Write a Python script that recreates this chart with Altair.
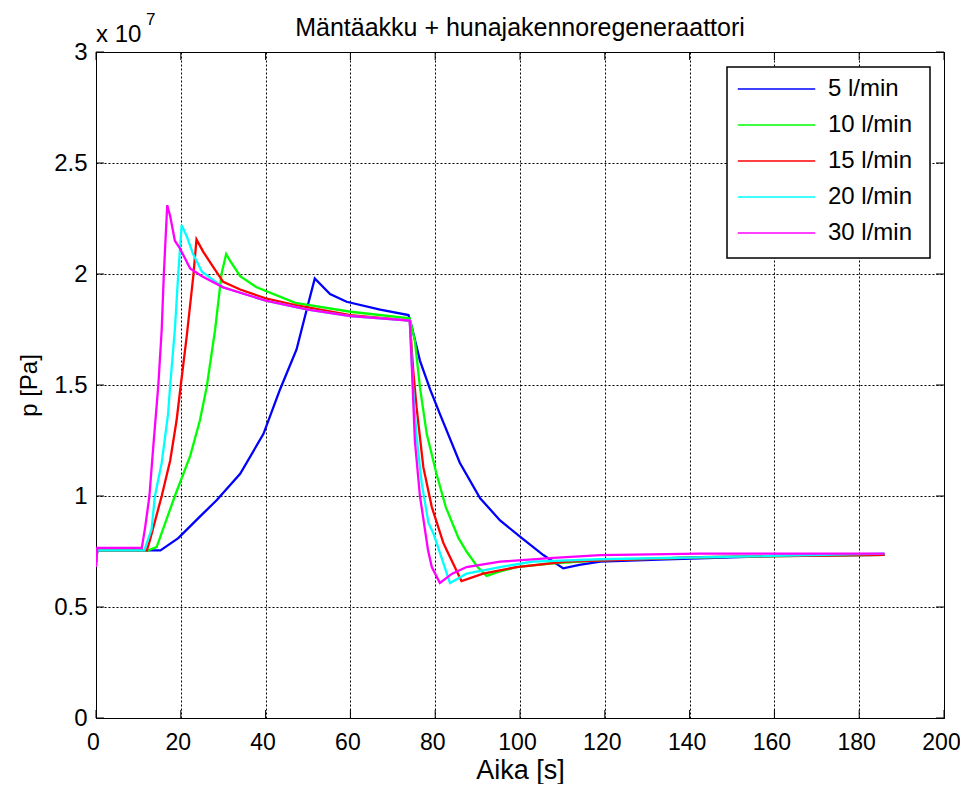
import altair as alt
import pandas as pd

# Pressure in units of 1e7 Pa, time in s
series = ["5 l/min", "10 l/min", "15 l/min", "20 l/min", "30 l/min"]
colors = ["#0000FF", "#00FF00", "#FF0000", "#00FFFF", "#FF00FF"]

t_5 = [0, 0.3, 15.2, 19.4, 24.5, 28.5, 34, 39.5, 43.4, 47.3, 49.7, 51.6, 55.2, 59.1, 67, 73.7,
       74.5, 76.4, 78.8, 81.1, 85.8, 90.6, 95.3, 100, 105.5, 110.2, 114, 118.9, 134.6, 160, 186]
p_5 = [0.70, 0.755, 0.755, 0.81, 0.907, 0.982, 1.10, 1.28, 1.48, 1.66, 1.84, 1.98, 1.91, 1.875, 1.84, 1.815,
       1.76, 1.61, 1.48, 1.37, 1.15, 0.99, 0.89, 0.817, 0.734, 0.674, 0.69, 0.704, 0.715, 0.73, 0.735]

t_10 = [0, 0.3, 12.3, 14.3, 18.6, 22.2, 24.5, 26.1, 28.1, 29.6, 30.7, 31.6, 34, 37.9, 47, 60, 74,
        75.2, 76.4, 78, 80.3, 82.5, 85.5, 87.4, 90, 92.1, 95.3, 99.2, 107, 118.9, 142.5, 186]
p_10 = [0.70, 0.755, 0.755, 0.77, 1.0, 1.18, 1.34, 1.49, 1.75, 2.0, 2.09, 2.06, 1.99, 1.94, 1.87, 1.83, 1.80,
        1.70, 1.49, 1.28, 1.10, 0.95, 0.81, 0.75, 0.68, 0.64, 0.66, 0.68, 0.696, 0.71, 0.724, 0.735]

t_15 = [0, 0.3, 12.0, 12.7, 15.5, 17.5, 19, 20, 21.4, 23, 23.7, 25.3, 27.7, 30, 34, 40, 47, 60, 74,
        74.8, 75.6, 77.2, 79.2, 81.9, 82.7, 86.2, 91.3, 99.2, 111, 142.5, 186]
p_15 = [0.70, 0.755, 0.755, 0.80, 1.0, 1.16, 1.34, 1.5, 1.72, 2.0, 2.156, 2.10, 2.03, 1.965, 1.93, 1.89, 1.86, 1.815, 1.79,
        1.57, 1.40, 1.13, 0.95, 0.79, 0.757, 0.617, 0.65, 0.68, 0.704, 0.724, 0.735]

t_20 = [0, 0.3, 11.4, 13.1, 13.9, 15.5, 17, 17.5, 18.6, 19.4, 20.2, 21.4, 22.9, 25, 30, 40, 50, 60, 74,
        74.8, 75.6, 76.8, 78.4, 79.6, 83.5, 87.4, 95.3, 103, 118.9, 186]
p_20 = [0.70, 0.755, 0.755, 0.85, 1.0, 1.15, 1.37, 1.5, 1.75, 2.0, 2.22, 2.17, 2.09, 2.01, 1.94, 1.88, 1.84, 1.81, 1.79,
        1.48, 1.27, 1.06, 0.88, 0.83, 0.608, 0.65, 0.68, 0.704, 0.715, 0.74]

t_30 = [0, 0.3, 10.8, 11.6, 12.6, 13.5, 14.7, 15.5, 16, 16.8, 17.5, 18.6, 19.8, 22.2, 25, 30, 40, 50, 60, 74,
        74.5, 75.2, 76.4, 78.3, 79.2, 81.1, 84, 87.4, 95.3, 107, 118.9, 142.5, 186]
p_30 = [0.68, 0.766, 0.766, 0.86, 1.0, 1.22, 1.5, 1.75, 2.0, 2.31, 2.26, 2.15, 2.115, 2.025, 1.99, 1.94, 1.88, 1.84, 1.81, 1.79,
        1.58, 1.25, 1.0, 0.757, 0.68, 0.608, 0.65, 0.68, 0.704, 0.72, 0.734, 0.74, 0.74]

x_ticks = [0, 20, 40, 60, 80, 100, 120, 140, 160, 180, 200]
y_ticks = [0, 0.5, 1, 1.5, 2, 2.5, 3]

title_text = "Mäntäakku + hunajakennoregeneraattori"
x_title = "Aika [s]"
y_title = "p [Pa]"

FONT = "Liberation Sans"
W, H = 848, 666

rows = []
for name, ts, ps in zip(series, [t_5, t_10, t_15, t_20, t_30], [p_5, p_10, p_15, p_20, p_30]):
    for i, (t, p) in enumerate(zip(ts, ps)):
        rows.append({"series": name, "t": t, "p": p, "i": i})
df = pd.DataFrame(rows)

xscale = alt.Scale(domain=[0, 200], nice=False, zero=False)
yscale = alt.Scale(domain=[0, 3], nice=False, zero=False)

xaxis = alt.Axis(values=x_ticks, title=x_title, grid=True, ticks=False, labelPadding=13,
                 labelFlush=False, labelFontSize=23, labelOffset=-3,
                 titlePadding=3, titleFontSize=27, labelExpr="'' + datum.value")
yaxis = alt.Axis(values=y_ticks, title=y_title, grid=True, ticks=False, labelPadding=9,
                 labelFlush=False, titlePadding=12, labelExpr="'' + datum.value")

X = alt.X("t:Q", scale=xscale, axis=xaxis)
Y = alt.Y("p:Q", scale=yscale, axis=yaxis)

lines = alt.Chart(df).mark_line(strokeWidth=2.3, clip=True).encode(
    x=X, y=Y,
    color=alt.Color("series:N", scale=alt.Scale(domain=series, range=colors),
                    legend=alt.Legend(title=None, orient="none", legendX=631, legendY=15,
                                      symbolType="stroke", symbolSize=6000, symbolStrokeWidth=1.5,
                                      clipHeight=24,
                                      labelFontSize=24, labelFont=FONT, labelOffset=12,
                                      labelColor="black",
                                      fillColor="transparent", strokeColor="transparent", padding=10,
                                      rowPadding=12, labelLimit=300)),
    detail="series:N",
    order="i:Q",
)

xt = pd.DataFrame({"t": x_ticks})
yt = pd.DataFrame({"p": y_ticks})

xtick_bot = alt.Chart(xt).mark_rule(color="black", strokeWidth=1).encode(x=X, y=alt.value(H), y2=alt.value(H - 8))
xtick_top = alt.Chart(xt).mark_rule(color="black", strokeWidth=1).encode(x=X, y=alt.value(0), y2=alt.value(8))
ytick_l = alt.Chart(yt).mark_rule(color="black", strokeWidth=1).encode(y=Y, x=alt.value(0), x2=alt.value(8))
ytick_r = alt.Chart(yt).mark_rule(color="black", strokeWidth=1).encode(y=Y, x=alt.value(W), x2=alt.value(W - 8))

one = pd.DataFrame({"a": [0]})
legend_box = alt.Chart(one).mark_rect(fill="white", stroke="black", strokeWidth=1.5).encode(
    x=alt.value(631), x2=alt.value(834), y=alt.value(15), y2=alt.value(206))
exp_base = alt.Chart(one).mark_text(align="left", baseline="alphabetic", fontSize=24, font=FONT,
                                    color="black").encode(x=alt.value(0), y=alt.value(-10), text=alt.value("x 10"))
exp_sup = alt.Chart(one).mark_text(align="left", baseline="alphabetic", fontSize=17, font=FONT,
                                   color="black").encode(x=alt.value(50), y=alt.value(-27), text=alt.value("7"))

chart = alt.layer(lines, xtick_bot, xtick_top, ytick_l, ytick_r, legend_box, exp_base, exp_sup).properties(
    width=W, height=H,
    title=alt.TitleParams(text=title_text, fontSize=25, font=FONT, fontWeight="normal",
                          anchor="middle", offset=-30, color="black"),
    autosize=alt.AutoSizeParams(type="none"),
    padding={"left": 88, "top": 44, "right": 16, "bottom": 66},
    background="white",
).configure_view(stroke="black", strokeWidth=1).configure_axis(
    labelFont=FONT, titleFont=FONT, labelFontSize=24, titleFontSize=24, titleFontWeight="normal",
    labelColor="black", titleColor="black", domainColor="black", domainWidth=1,
    gridColor="black", gridOpacity=1, gridDash=[2, 2], gridWidth=1,
)

chart.save("out.html", embed_options={"renderer": "svg", "actions": False})
